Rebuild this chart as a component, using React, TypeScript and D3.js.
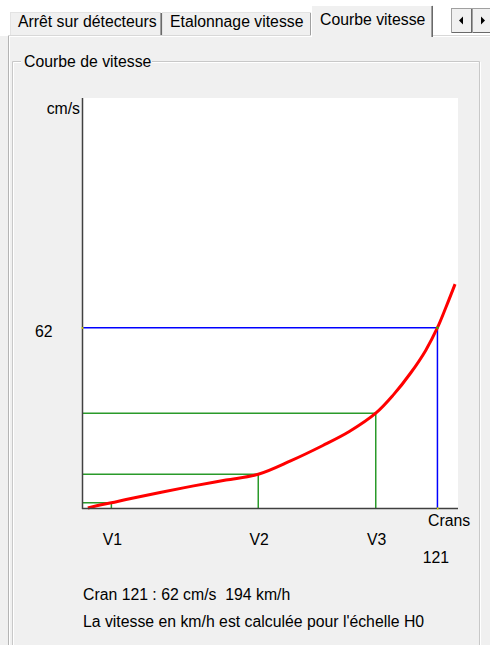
import React from "react";
import * as d3 from "d3";

// ---- data ----
const crans = [2, 5, 10, 15, 27, 38, 49, 60, 71, 82, 91, 100, 106, 112, 117, 121, 124, 127];
const speeds = [0, 0.8, 1.8, 2.9, 5.4, 7.6, 9.6, 11.6, 16.2, 21.5, 26.3, 32.6, 38.9, 46.6, 54.2, 62, 69.3, 77];
const markerLabels = ["V1", "V2", "V3"];
const markerCrans = [10, 60, 100];
const markerSpeeds = [1.8, 11.6, 32.6];
const currentCran = 121;
const currentSpeed = 62;
const tabLabels = ["Arrêt sur détecteurs", "Etalonnage vitesse", "Courbe vitesse"];
const infoLines = ["Cran 121 : 62 cm/s  194 km/h", "La vitesse en km/h est calculée pour l'échelle H0"];

const FONT = "'Liberation Sans', Arial, sans-serif";
const FS = 15.8;

export default function App() {
  const W = 490, H = 645;
  const px0 = 82, px1 = 458, py0 = 508, py1 = 98;
  const x = d3.scaleLinear().domain([0, 128]).range([px0, px1]);
  const y = d3.scaleLinear().domain([0, 141]).range([py0, py1]);
  const line = d3
    .line<number>()
    .x((_, i) => x(crans[i]))
    .y((d) => y(d))
    .curve(d3.curveCatmullRom.alpha(0.5));

  const tabs = [
    { x0: 10, x1: 161, tx: 18 },
    { x0: 162, x1: 311, tx: 170 },
  ];

  return (
    <svg
      width={W}
      height={H}
      style={{ position: "absolute", left: 0, top: 0, display: "block" }}
      fontFamily={FONT}
      fontSize={FS}
    >
      <rect x={0} y={0} width={W} height={H} fill="#f0f0f0" />
      {/* top strip */}
      <rect x={0} y={0} width={W} height={36} fill="#ffffff" />
      {/* unselected tabs */}
      {tabs.map((t, i) => (
        <g key={i}>
          <rect x={t.x0} y={12} width={t.x1 - t.x0} height={24} fill="#f0f0f0" />
          <line x1={t.x0} x2={t.x1} y1={12.5} y2={12.5} stroke="#e3e3e3" />
          <line x1={t.x0 + 0.5} x2={t.x0 + 0.5} y1={12} y2={36} stroke="#e3e3e3" />
          <line x1={t.x1 - 0.5} x2={t.x1 - 0.5} y1={13} y2={36} stroke="#a0a0a0" />
          <line x1={t.x1 + 0.5} x2={t.x1 + 0.5} y1={13} y2={36} stroke="#696969" />
          <text x={t.tx} y={27} fill="#000">{tabLabels[i]}</text>
        </g>
      ))}
      {/* panel top line */}
      <line x1={8} x2={W} y1={36.5} y2={36.5} stroke="#ffffff" />
      <line x1={8} x2={W} y1={35.5} y2={35.5} stroke="#d8d8d8" />
      {/* selected tab */}
      <rect x={311} y={5} width={122} height={33} fill="#f0f0f0" />
      <line x1={311} x2={432} y1={5.5} y2={5.5} stroke="#ffffff" />
      <line x1={311.5} x2={311.5} y1={5} y2={37} stroke="#ffffff" />
      <line x1={431.5} x2={431.5} y1={6} y2={37} stroke="#a0a0a0" />
      <line x1={432.5} x2={432.5} y1={6} y2={37} stroke="#696969" />
      <text x={320} y={25} fill="#000">{tabLabels[2]}</text>
      {/* scroll buttons */}
      {[451, 472].map((bx, i) => (
        <g key={bx}>
          <rect x={bx + 0.5} y={8.5} width={20} height={24} fill="#f0f0f0" stroke="#a0a0a0" />
          <line x1={bx + 20.5} x2={bx + 20.5} y1={9} y2={33} stroke="#696969" />
          <line x1={bx + 1} x2={bx + 20} y1={32.5} y2={32.5} stroke="#696969" />
          <path
            d={i === 0 ? `M${bx + 8},${20.5} L${bx + 12},${16.5} L${bx + 12},${24.5} Z` : `M${bx + 9},${16.5} L${bx + 13},${20.5} L${bx + 9},${24.5} Z`}
            fill="#000"
          />
        </g>
      ))}
      {/* panel borders */}
      <line x1={8.5} x2={8.5} y1={36} y2={H} stroke="#b4b4b4" />
      <line x1={9.5} x2={9.5} y1={36} y2={H} stroke="#ffffff" />
      {/* group box */}
      <path d={`M12.5,${H} L12.5,61.5 L479.5,61.5 L479.5,${H}`} fill="none" stroke="#c8c8c8" />
      <path d={`M13.5,${H} L13.5,62.5 L478.5,62.5 M480.5,62 L480.5,${H}`} fill="none" stroke="#ffffff" />
      <rect x={21} y={52} width={131} height={16} fill="#f0f0f0" />
      <text x={24} y={67} fill="#000">Courbe de vitesse</text>

      {/* plot area */}
      <rect x={px0} y={py1} width={px1 - px0} height={py0 - py1} fill="#ffffff" />

      {/* marker guide lines */}
      {markerCrans.map((c, i) => (
        <g key={i}>
          <line x1={x(0)} x2={x(c)} y1={y(markerSpeeds[i])} y2={y(markerSpeeds[i])} stroke="#2a9a2a" strokeWidth={1.5} />
          <line x1={x(c)} x2={x(c)} y1={y(markerSpeeds[i])} y2={y(0)} stroke="#2a9a2a" strokeWidth={1.5} />
        </g>
      ))}
      <line x1={x(0)} x2={x(currentCran)} y1={y(currentSpeed)} y2={y(currentSpeed)} stroke="#0000ff" strokeWidth={1.5} />
      <line x1={x(currentCran)} x2={x(currentCran)} y1={y(currentSpeed)} y2={y(0)} stroke="#0000ff" strokeWidth={1.5} />

      {/* speed curve */}
      <path d={line(speeds) || ""} fill="none" stroke="#ff0000" strokeWidth={3} strokeLinejoin="round" />
      <rect x={x(currentCran) - 1} y={y(currentSpeed) - 1} width={2} height={2} fill="#00e000" />

      {/* axes */}
      <line x1={px0 + 0.5} x2={px0 + 0.5} y1={py1} y2={py0 + 1} stroke="#404040" strokeWidth={1.5} />
      <line x1={px0} x2={px1} y1={py0 + 0.5} y2={py0 + 0.5} stroke="#404040" strokeWidth={1.5} />
      <rect x={px0 - 0.5} y={y(currentSpeed) - 0.5} width={2} height={1.5} fill="#e0e000" />
      <rect x={x(currentCran) - 0.5} y={py0 - 0.5} width={1.5} height={2} fill="#e0e000" />

      {/* labels */}
      <text x={80} y={114} textAnchor="end" fill="#000">cm/s</text>
      <text x={35} y={336.5} fill="#000">{currentSpeed}</text>
      {markerCrans.map((c, i) => (
        <text key={i} x={x(c) + 1} y={545} textAnchor="middle" fill="#000">{markerLabels[i]}</text>
      ))}
      <text x={428} y={526} fill="#000">Crans</text>
      <text x={x(currentCran) - 1.5} y={563} textAnchor="middle" fill="#000">{currentCran}</text>
      <text x={83} y={600} fill="#000" xmlSpace="preserve" style={{ whiteSpace: "pre" }}>{infoLines[0]}</text>
      <text x={83} y={627} fill="#000">{infoLines[1]}</text>
    </svg>
  );
}
